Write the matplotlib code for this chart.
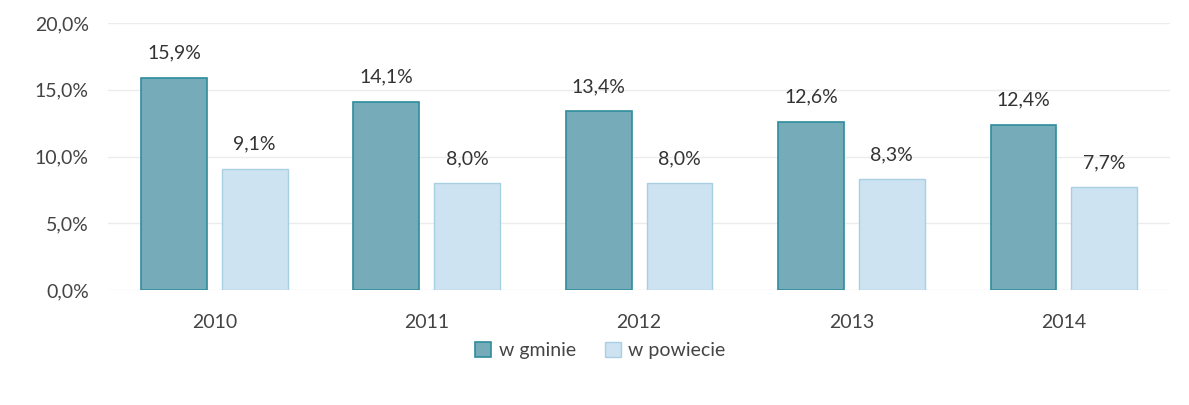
import matplotlib.pyplot as plt
import numpy as np

years = ['2010', '2011', '2012', '2013', '2014']
gmina = [15.9, 14.1, 13.4, 12.6, 12.4]
powiat = [9.1, 8.0, 8.0, 8.3, 7.7]
series_names = ['w gminie', 'w powiecie']

plt.rcParams['font.family'] = ['Lato', 'DejaVu Sans']

fig = plt.figure(figsize=(11.89, 4.05), dpi=100)
ax = fig.add_axes([0.091, 0.284, 0.893, 0.659])

x = np.arange(len(years))
w = 0.31
gap = 0.07
b1 = ax.bar(x - w/2 - gap/2, gmina, w, color='#76abb9', edgecolor='#2f8c9c', linewidth=1.2, label=series_names[0])
b2 = ax.bar(x + w/2 + gap/2, powiat, w, color='#cde3f2', edgecolor='#a9cfe3', linewidth=1.0, label=series_names[1])

for bars, vals in ((b1, gmina), (b2, powiat)):
    for r, v in zip(bars, vals):
        ax.text(r.get_x() + r.get_width()/2, v + 1.2, f'{v:.1f}%'.replace('.', ','),
                ha='center', va='bottom', fontsize=14, color='#333333')

ax.set_ylim(0, 20)
ax.set_xlim(-0.5, len(years) - 0.5)
ax.set_yticks([0, 5, 10, 15, 20])
ax.set_yticklabels([f'{t:.1f}%'.replace('.', ',') for t in [0, 5, 10, 15, 20]])
ax.set_xticks(x)
ax.set_xticklabels(years)
ax.tick_params(length=0, labelsize=14, labelcolor='#444444')
ax.tick_params(axis='x', pad=17)
ax.tick_params(axis='y', pad=14)
ax.grid(axis='y', color='#ececec', linewidth=1)
ax.set_axisbelow(True)
for s in ax.spines.values():
    s.set_visible(False)

fig.legend(loc='center', bbox_to_anchor=(0.505, 0.135), ncol=2, frameon=False,
           fontsize=14, handlelength=0.8, handleheight=0.8, handletextpad=0.4,
           columnspacing=1.5, labelcolor='#444444')

fig.savefig('out.png', dpi=100)
